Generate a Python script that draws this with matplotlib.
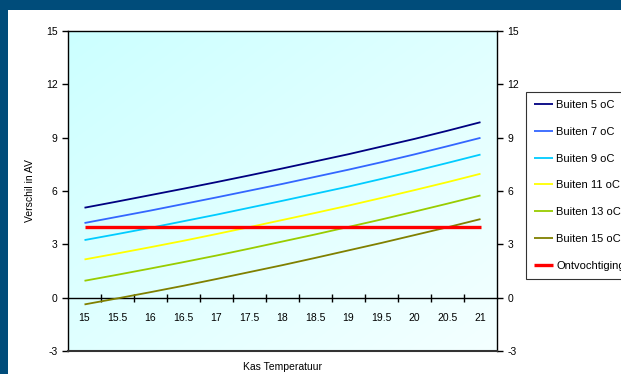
import numpy as np
import matplotlib
matplotlib.use("Agg")
import matplotlib.pyplot as plt
from matplotlib.patches import Rectangle
from matplotlib.colors import LinearSegmentedColormap

plt.rcParams['font.family'] = ['Liberation Sans', 'DejaVu Sans']

# Greenhouse temperature categories
temps = ["15", "15.5", "16", "16.5", "17", "17.5", "18",
         "18.5", "19", "19.5", "20", "20.5", "21"]

buiten_5 = [5.06, 5.41, 5.77, 6.13, 6.50, 6.88, 7.27, 7.67, 8.07, 8.50, 8.93, 9.39, 9.87]
buiten_7 = [4.20, 4.55, 4.90, 5.27, 5.64, 6.02, 6.40, 6.80, 7.20, 7.62, 8.06, 8.52, 8.99]
buiten_9 = [3.24, 3.58, 3.93, 4.30, 4.67, 5.06, 5.45, 5.85, 6.25, 6.68, 7.12, 7.58, 8.05]
buiten_11 = [2.15, 2.49, 2.84, 3.20, 3.58, 3.97, 4.37, 4.77, 5.18, 5.61, 6.05, 6.50, 6.97]
buiten_13 = [0.95, 1.29, 1.64, 2.00, 2.37, 2.76, 3.16, 3.56, 3.98, 4.40, 4.84, 5.29, 5.75]
buiten_15 = [-0.38, -0.04, 0.31, 0.67, 1.05, 1.44, 1.83, 2.24, 2.66, 3.08, 3.52, 3.96, 4.42]
ontvochtiging = [4.0] * 13

series = [
    ("Buiten 5 oC", buiten_5, "#000080", 1.3),
    ("Buiten 7 oC", buiten_7, "#3366FF", 1.3),
    ("Buiten 9 oC", buiten_9, "#00CCFF", 1.3),
    ("Buiten 11 oC", buiten_11, "#FFFF00", 1.3),
    ("Buiten 13 oC", buiten_13, "#99CC00", 1.3),
    ("Buiten 15 oC", buiten_15, "#808000", 1.3),
    ("Ontvochtiging", ontvochtiging, "#FF0000", 2.4),
]

W, H = 621, 374
fig = plt.figure(figsize=(W / 100, H / 100), dpi=100)
fig.patch.set_facecolor("#004C7A")

# white sheet inside the dark frame
fig.add_artist(Rectangle((8 / W, 0), 1, 1 - 10 / H, transform=fig.transFigure,
                         facecolor="white", edgecolor="none", zorder=0))

ax = fig.add_axes([68 / W, 23 / H, 429 / W, 320 / H])
ax.set_zorder(2)

x = np.arange(len(temps))
ax.set_xlim(-0.5, len(temps) - 0.5)
ax.set_ylim(-3, 15)

# plot-area gradient: light cyan top-left fading to near white bottom-right
cmap = LinearSegmentedColormap.from_list("bg", ["#CCFFFF", "#F4FFFF"])
gx, gy = np.meshgrid(np.linspace(0, 1, 200), np.linspace(0, 1, 200))
ax.imshow((gx + gy) / 2, cmap=cmap, extent=(0, 1, 0, 1), transform=ax.transAxes,
          aspect="auto", zorder=0, interpolation="bilinear")

lines = []
for label, vals, color, lw in series:
    ln, = ax.plot(x, vals, color=color, lw=lw, label=label, zorder=3,
                  solid_capstyle="butt")
    lines.append(ln)

# horizontal axis crossing at zero
ax.spines["bottom"].set_position(("data", 0))
ax.spines["bottom"].set_linewidth(1.0)
ax.axhline(-3, color="#333333", lw=1.5, zorder=4, clip_on=False)
ax.spines["top"].set_linewidth(1.0)
ax.spines["left"].set_linewidth(1.0)
ax.spines["right"].set_linewidth(1.0)

ax.set_xticks(x)
ax.set_xticklabels(temps)
ax.set_xticks(np.arange(0.5, len(temps) - 1, 1.0), minor=True)
ax.tick_params(axis="x", which="major", length=0, pad=11, labelsize=7.5)
ax.tick_params(axis="x", which="minor", length=6, direction="inout", width=1.0)

yt = np.arange(-3, 16, 3)
ax.set_yticks(yt)
ax.set_yticklabels([str(v) for v in yt])
ax.tick_params(axis="y", which="major", length=4, direction="out", labelsize=7.5,
               left=True, right=True, labelleft=True, labelright=True, width=1.0)

ax.set_ylabel("Verschil in AV", fontsize=7.5, labelpad=8)
ax.set_xlabel("Kas Temperatuur", fontsize=7.5, va="center")
ax.xaxis.set_label_coords(0.5, -0.05)

leg = fig.legend(handles=lines, loc="upper left",
                 bbox_to_anchor=(526 / W, 1 - 92 / H), fontsize=8,
                 frameon=True, fancybox=False, edgecolor="black",
                 handlelength=1.7, handletextpad=0.3, labelspacing=1.51,
                 borderpad=0.72, borderaxespad=0)
leg.get_frame().set_linewidth(0.8)

fig.savefig("out.png", dpi=100, facecolor=fig.get_facecolor())
